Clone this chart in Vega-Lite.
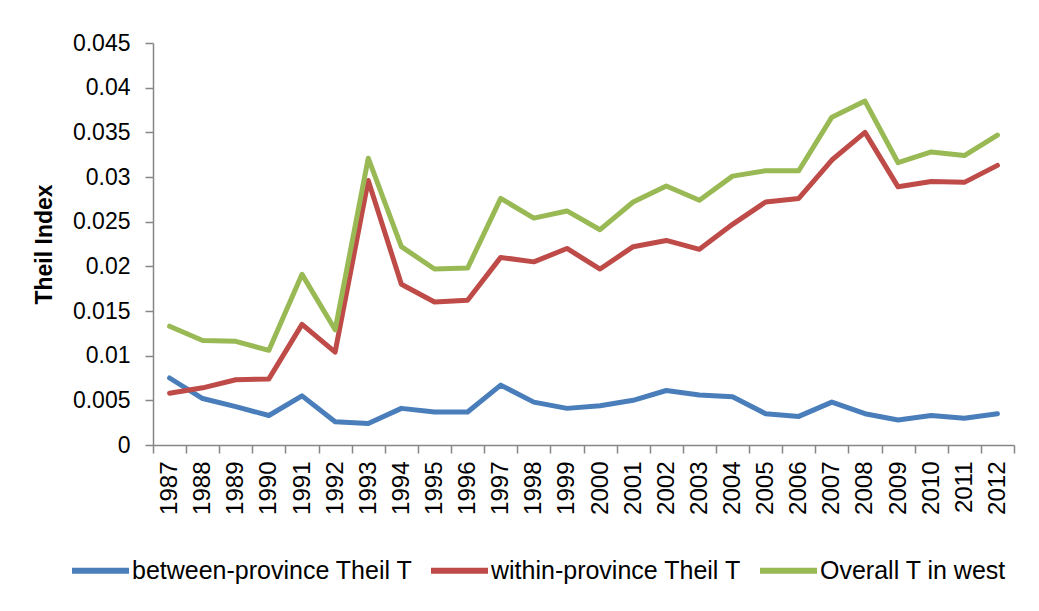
{
  "$schema": "https://vega.github.io/schema/vega-lite/v6.json",
  "autosize": {"type": "none"},
  "width": 861,
  "height": 402,
  "padding": {"left": 153, "top": 43, "right": 25, "bottom": 166},
  "background": "white",
  "config": {
    "view": {"stroke": null},
    "font": "Liberation Sans",
    "axis": {"grid": false, "domainColor": "#868686", "tickColor": "#868686", "domainWidth": 1.5, "tickWidth": 1.5, "tickSize": 8, "labelColor": "#000000", "titleColor": "#000000", "labelFont": "Liberation Sans", "titleFont": "Liberation Sans"}
  },
  "data": {
    "values": [
      {"year": "1987", "series": "between-province Theil T", "value": 0.0075},
      {"year": "1988", "series": "between-province Theil T", "value": 0.0052},
      {"year": "1989", "series": "between-province Theil T", "value": 0.0043},
      {"year": "1990", "series": "between-province Theil T", "value": 0.0033},
      {"year": "1991", "series": "between-province Theil T", "value": 0.0055},
      {"year": "1992", "series": "between-province Theil T", "value": 0.0026},
      {"year": "1993", "series": "between-province Theil T", "value": 0.0024},
      {"year": "1994", "series": "between-province Theil T", "value": 0.0041},
      {"year": "1995", "series": "between-province Theil T", "value": 0.0037},
      {"year": "1996", "series": "between-province Theil T", "value": 0.0037},
      {"year": "1997", "series": "between-province Theil T", "value": 0.0067},
      {"year": "1998", "series": "between-province Theil T", "value": 0.0048},
      {"year": "1999", "series": "between-province Theil T", "value": 0.0041},
      {"year": "2000", "series": "between-province Theil T", "value": 0.0044},
      {"year": "2001", "series": "between-province Theil T", "value": 0.0050},
      {"year": "2002", "series": "between-province Theil T", "value": 0.0061},
      {"year": "2003", "series": "between-province Theil T", "value": 0.0056},
      {"year": "2004", "series": "between-province Theil T", "value": 0.0054},
      {"year": "2005", "series": "between-province Theil T", "value": 0.0035},
      {"year": "2006", "series": "between-province Theil T", "value": 0.0032},
      {"year": "2007", "series": "between-province Theil T", "value": 0.0048},
      {"year": "2008", "series": "between-province Theil T", "value": 0.0035},
      {"year": "2009", "series": "between-province Theil T", "value": 0.0028},
      {"year": "2010", "series": "between-province Theil T", "value": 0.0033},
      {"year": "2011", "series": "between-province Theil T", "value": 0.0030},
      {"year": "2012", "series": "between-province Theil T", "value": 0.0035},
      {"year": "1987", "series": "within-province Theil T", "value": 0.0058},
      {"year": "1988", "series": "within-province Theil T", "value": 0.0064},
      {"year": "1989", "series": "within-province Theil T", "value": 0.0073},
      {"year": "1990", "series": "within-province Theil T", "value": 0.0074},
      {"year": "1991", "series": "within-province Theil T", "value": 0.0135},
      {"year": "1992", "series": "within-province Theil T", "value": 0.0104},
      {"year": "1993", "series": "within-province Theil T", "value": 0.0296},
      {"year": "1994", "series": "within-province Theil T", "value": 0.0180},
      {"year": "1995", "series": "within-province Theil T", "value": 0.0160},
      {"year": "1996", "series": "within-province Theil T", "value": 0.0162},
      {"year": "1997", "series": "within-province Theil T", "value": 0.0210},
      {"year": "1998", "series": "within-province Theil T", "value": 0.0205},
      {"year": "1999", "series": "within-province Theil T", "value": 0.0220},
      {"year": "2000", "series": "within-province Theil T", "value": 0.0197},
      {"year": "2001", "series": "within-province Theil T", "value": 0.0222},
      {"year": "2002", "series": "within-province Theil T", "value": 0.0229},
      {"year": "2003", "series": "within-province Theil T", "value": 0.0219},
      {"year": "2004", "series": "within-province Theil T", "value": 0.0247},
      {"year": "2005", "series": "within-province Theil T", "value": 0.0272},
      {"year": "2006", "series": "within-province Theil T", "value": 0.0276},
      {"year": "2007", "series": "within-province Theil T", "value": 0.0319},
      {"year": "2008", "series": "within-province Theil T", "value": 0.0350},
      {"year": "2009", "series": "within-province Theil T", "value": 0.0289},
      {"year": "2010", "series": "within-province Theil T", "value": 0.0295},
      {"year": "2011", "series": "within-province Theil T", "value": 0.0294},
      {"year": "2012", "series": "within-province Theil T", "value": 0.0313},
      {"year": "1987", "series": "Overall T in west", "value": 0.0133},
      {"year": "1988", "series": "Overall T in west", "value": 0.0117},
      {"year": "1989", "series": "Overall T in west", "value": 0.0116},
      {"year": "1990", "series": "Overall T in west", "value": 0.0106},
      {"year": "1991", "series": "Overall T in west", "value": 0.0191},
      {"year": "1992", "series": "Overall T in west", "value": 0.0129},
      {"year": "1993", "series": "Overall T in west", "value": 0.0321},
      {"year": "1994", "series": "Overall T in west", "value": 0.0222},
      {"year": "1995", "series": "Overall T in west", "value": 0.0197},
      {"year": "1996", "series": "Overall T in west", "value": 0.0198},
      {"year": "1997", "series": "Overall T in west", "value": 0.0276},
      {"year": "1998", "series": "Overall T in west", "value": 0.0254},
      {"year": "1999", "series": "Overall T in west", "value": 0.0262},
      {"year": "2000", "series": "Overall T in west", "value": 0.0241},
      {"year": "2001", "series": "Overall T in west", "value": 0.0272},
      {"year": "2002", "series": "Overall T in west", "value": 0.0290},
      {"year": "2003", "series": "Overall T in west", "value": 0.0274},
      {"year": "2004", "series": "Overall T in west", "value": 0.0301},
      {"year": "2005", "series": "Overall T in west", "value": 0.0307},
      {"year": "2006", "series": "Overall T in west", "value": 0.0307},
      {"year": "2007", "series": "Overall T in west", "value": 0.0367},
      {"year": "2008", "series": "Overall T in west", "value": 0.0385},
      {"year": "2009", "series": "Overall T in west", "value": 0.0316},
      {"year": "2010", "series": "Overall T in west", "value": 0.0328},
      {"year": "2011", "series": "Overall T in west", "value": 0.0324},
      {"year": "2012", "series": "Overall T in west", "value": 0.0347}
    ]
  },
  "mark": {"type": "line", "strokeWidth": 5, "strokeJoin": "round", "strokeCap": "round"},
  "encoding": {
    "x": {
      "field": "year", "type": "ordinal", "bandPosition": 0.5,
      "scale": {"type": "band", "paddingInner": 0, "paddingOuter": 0},
      "axis": {"title": null, "labelAngle": -90, "labelFontSize": 24, "labelPadding": 8, "tickBand": "extent", "labelBaseline": "middle", "labelAlign": "right"}
    },
    "y": {
      "field": "value", "type": "quantitative",
      "scale": {"domain": [0, 0.045], "nice": false, "zero": true},
      "axis": {"title": "Theil Index", "titleFontSize": 23, "titleFontWeight": "bold", "titlePadding": 16, "labelFontSize": 23, "labelPadding": 15, "values": [0, 0.005, 0.01, 0.015, 0.02, 0.025, 0.03, 0.035, 0.04, 0.045], "format": "~g"}
    },
    "color": {
      "field": "series", "type": "nominal",
      "scale": {"domain": ["between-province Theil T", "within-province Theil T", "Overall T in west"], "range": ["#4A7EBB", "#BE4B48", "#98B954"]},
      "legend": {"title": null, "orient": "none", "legendX": -84, "legendY": 496, "direction": "horizontal", "columns": 3, "columnPadding": 6, "symbolType": "stroke", "symbolSize": 3249, "symbolStrokeWidth": 6, "labelFontSize": 25, "labelFont": "Liberation Sans", "labelColor": "#000000", "labelOffset": 0, "labelLimit": 400}
    }
  }
}
